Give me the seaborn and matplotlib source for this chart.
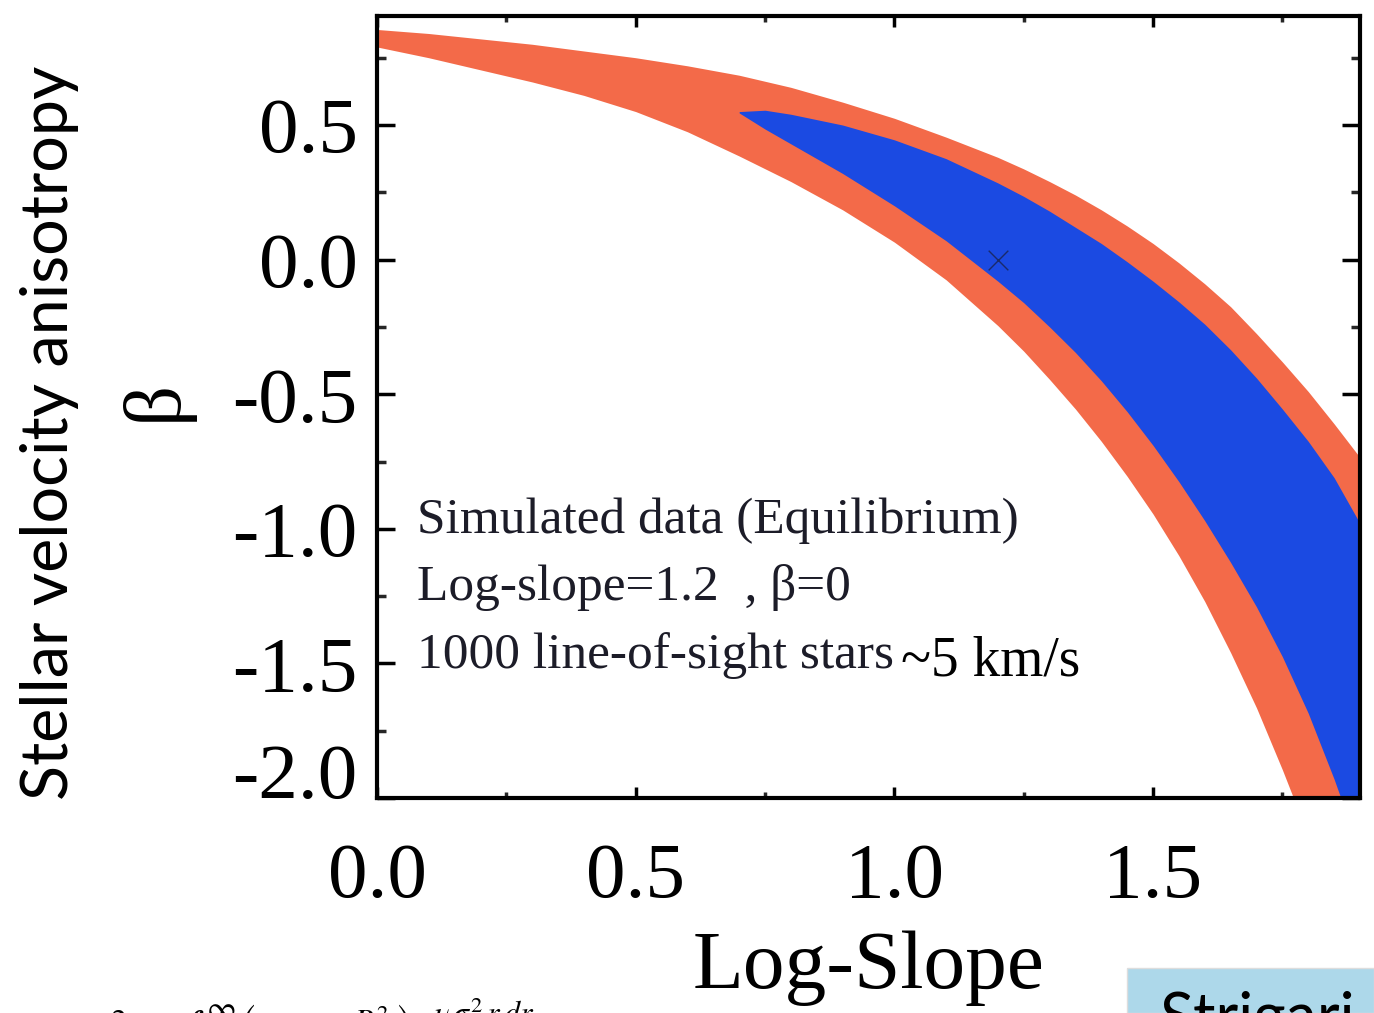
import numpy as np
import pandas as pd
import matplotlib
matplotlib.use("Agg")
import matplotlib.pyplot as plt
import seaborn as sns
from matplotlib.patches import Rectangle
from matplotlib.ticker import MultipleLocator

# outer (orange) band boundaries
orange_x = [0.0, 0.1, 0.2, 0.3, 0.4, 0.5, 0.6, 0.7, 0.8, 0.9, 1.0, 1.1,
            1.2, 1.25, 1.3, 1.35, 1.4, 1.45, 1.5, 1.55, 1.6, 1.65, 1.7, 1.75, 1.8, 1.85, 1.9]
orange_upper = [0.855, 0.84, 0.82, 0.80, 0.775, 0.75, 0.72, 0.685, 0.64, 0.585, 0.525, 0.455,
                0.38, 0.337, 0.29, 0.24, 0.185, 0.125, 0.06, -0.012, -0.09, -0.175, -0.275,
                -0.38, -0.49, -0.61, -0.735]
orange_lower = [0.79, 0.75, 0.705, 0.66, 0.61, 0.55, 0.475, 0.385, 0.29, 0.185, 0.065, -0.075,
                -0.245, -0.34, -0.445, -0.555, -0.675, -0.805, -0.945, -1.10, -1.27, -1.46,
                -1.665, -1.895, -2.14, -2.4, -2.68]

# inner (blue) band boundaries
blue_x = [0.70, 0.75, 0.8, 0.9, 1.0, 1.1, 1.2, 1.25, 1.3, 1.35, 1.4, 1.45,
          1.5, 1.55, 1.6, 1.65, 1.7, 1.75, 1.8, 1.85, 1.9]
blue_upper = [0.55, 0.555, 0.54, 0.50, 0.445, 0.375, 0.285, 0.235, 0.18, 0.12, 0.06, -0.008,
              -0.08, -0.157, -0.24, -0.335, -0.44, -0.555, -0.675, -0.81, -0.98]
blue_lower = [0.545, 0.485, 0.43, 0.32, 0.20, 0.07, -0.08, -0.16, -0.25, -0.345, -0.45, -0.565,
              -0.69, -0.825, -0.97, -1.125, -1.29, -1.475, -1.685, -1.93, -2.2]

# true model used for the simulation
true_slope = [1.2]
true_beta = [0.0]

xticks = [0.0, 0.5, 1.0, 1.5]
yticks = [-2.0, -1.5, -1.0, -0.5, 0.0, 0.5]

notes = ["Simulated data (Equilibrium)", "Log-slope=1.2  , \u03b2=0", "1000 line-of-sight stars"]

sns.set_theme(style="white")
plt.rcParams['font.family'] = ['Liberation Serif', 'DejaVu Serif']
plt.rcParams['mathtext.fontset'] = 'stix'

fig = plt.figure(figsize=(13.74, 10.13), dpi=100)
ax = fig.add_axes([0.2744, 0.2122, 0.7154, 0.772])

orange_df = pd.DataFrame({'x': orange_x, 'lo': orange_lower, 'hi': orange_upper})
blue_df = pd.DataFrame({'x': blue_x, 'lo': blue_lower, 'hi': blue_upper})

ax.fill_between(orange_df['x'], orange_df['lo'], orange_df['hi'], color='#F36A49', lw=0)
ax.fill_between(blue_df['x'], blue_df['lo'], blue_df['hi'], color='#1B4AE2', lw=0)
sns.scatterplot(x=true_slope, y=true_beta, marker='x', s=200, color='#1a2a6a',
                linewidth=1.0, ax=ax, zorder=5)

ax.set_xlim(0.0, 1.9)
ax.set_ylim(-2.0, 0.905)
ax.set_xticks(xticks)
ax.set_xticklabels([f"{t:.1f}" for t in xticks])
ax.set_yticks(yticks)
ax.set_yticklabels([f"{t:.1f}" for t in yticks])
ax.xaxis.set_minor_locator(MultipleLocator(0.25))
ax.yaxis.set_minor_locator(MultipleLocator(0.25))

ax.tick_params(axis='x', which='major', direction='in', length=8, width=2.5,
               top=True, bottom=True, labelsize=57, pad=32, colors='black')
ax.tick_params(axis='x', which='minor', direction='in', length=4, width=2.5, top=True, bottom=True)
ax.tick_params(axis='y', which='major', direction='in', length=13, width=2.5,
               left=True, right=True, labelsize=57, pad=14, colors='black')
ax.tick_params(axis='y', which='minor', direction='in', length=6.5, width=2.5, left=True, right=True)
for lab in ax.get_yticklabels():
    if lab.get_text() == "-2.0":
        lab.set_va('baseline')

for sp in ax.spines.values():
    sp.set_visible(True)
    sp.set_color('black')
    sp.set_linewidth(3)

ax.set_xlabel("Log-Slope", fontsize=60, labelpad=12, color='black')

# annotation block inside the panel
ax.text(0.077, -1.015, notes[0], fontsize=37, color='#1c1c28', va='baseline')
ax.text(0.077, -1.264, notes[1], fontsize=37, color='#1c1c28', va='baseline')
ax.text(0.077, -1.517, notes[2], fontsize=37, color='#1c1c28', va='baseline')
ax.text(1.012, -1.543, "~5 km/s", fontsize=40, color='black', va='baseline')

# y-axis titles
fig.text(0.036, 0.573, "Stellar velocity anisotropy", rotation=90, fontsize=46.5,
         family=['Lato', 'DejaVu Sans'], ha='center', va='center', color='black')
fig.text(0.113, 0.605, "\u03b2", rotation=90, fontsize=58, ha='center', va='center', color='black')

# cut-off slide elements at the bottom
fig.text(0.062, 0.0178,
         r"$\sigma^2_p = \int_R^{\infty}\left(1-\beta\,\frac{R^2}{r^2}\right)\frac{\nu\,\sigma_r^2\,r\,dr}{\sqrt{r^2-R^2}}$",
         fontsize=33, va='top', ha='left', color='black')
fig.patches.append(Rectangle((0.820, 0.0), 0.18, 0.0444, transform=fig.transFigure,
                             facecolor='#ADD8EA', edgecolor='#dddddd', lw=1))
fig.text(0.844, 0.0227, "Strigari", fontsize=45, family=['Lato', 'DejaVu Sans'],
         va='top', ha='left', color='black')

fig.savefig("out.png", dpi=100)
